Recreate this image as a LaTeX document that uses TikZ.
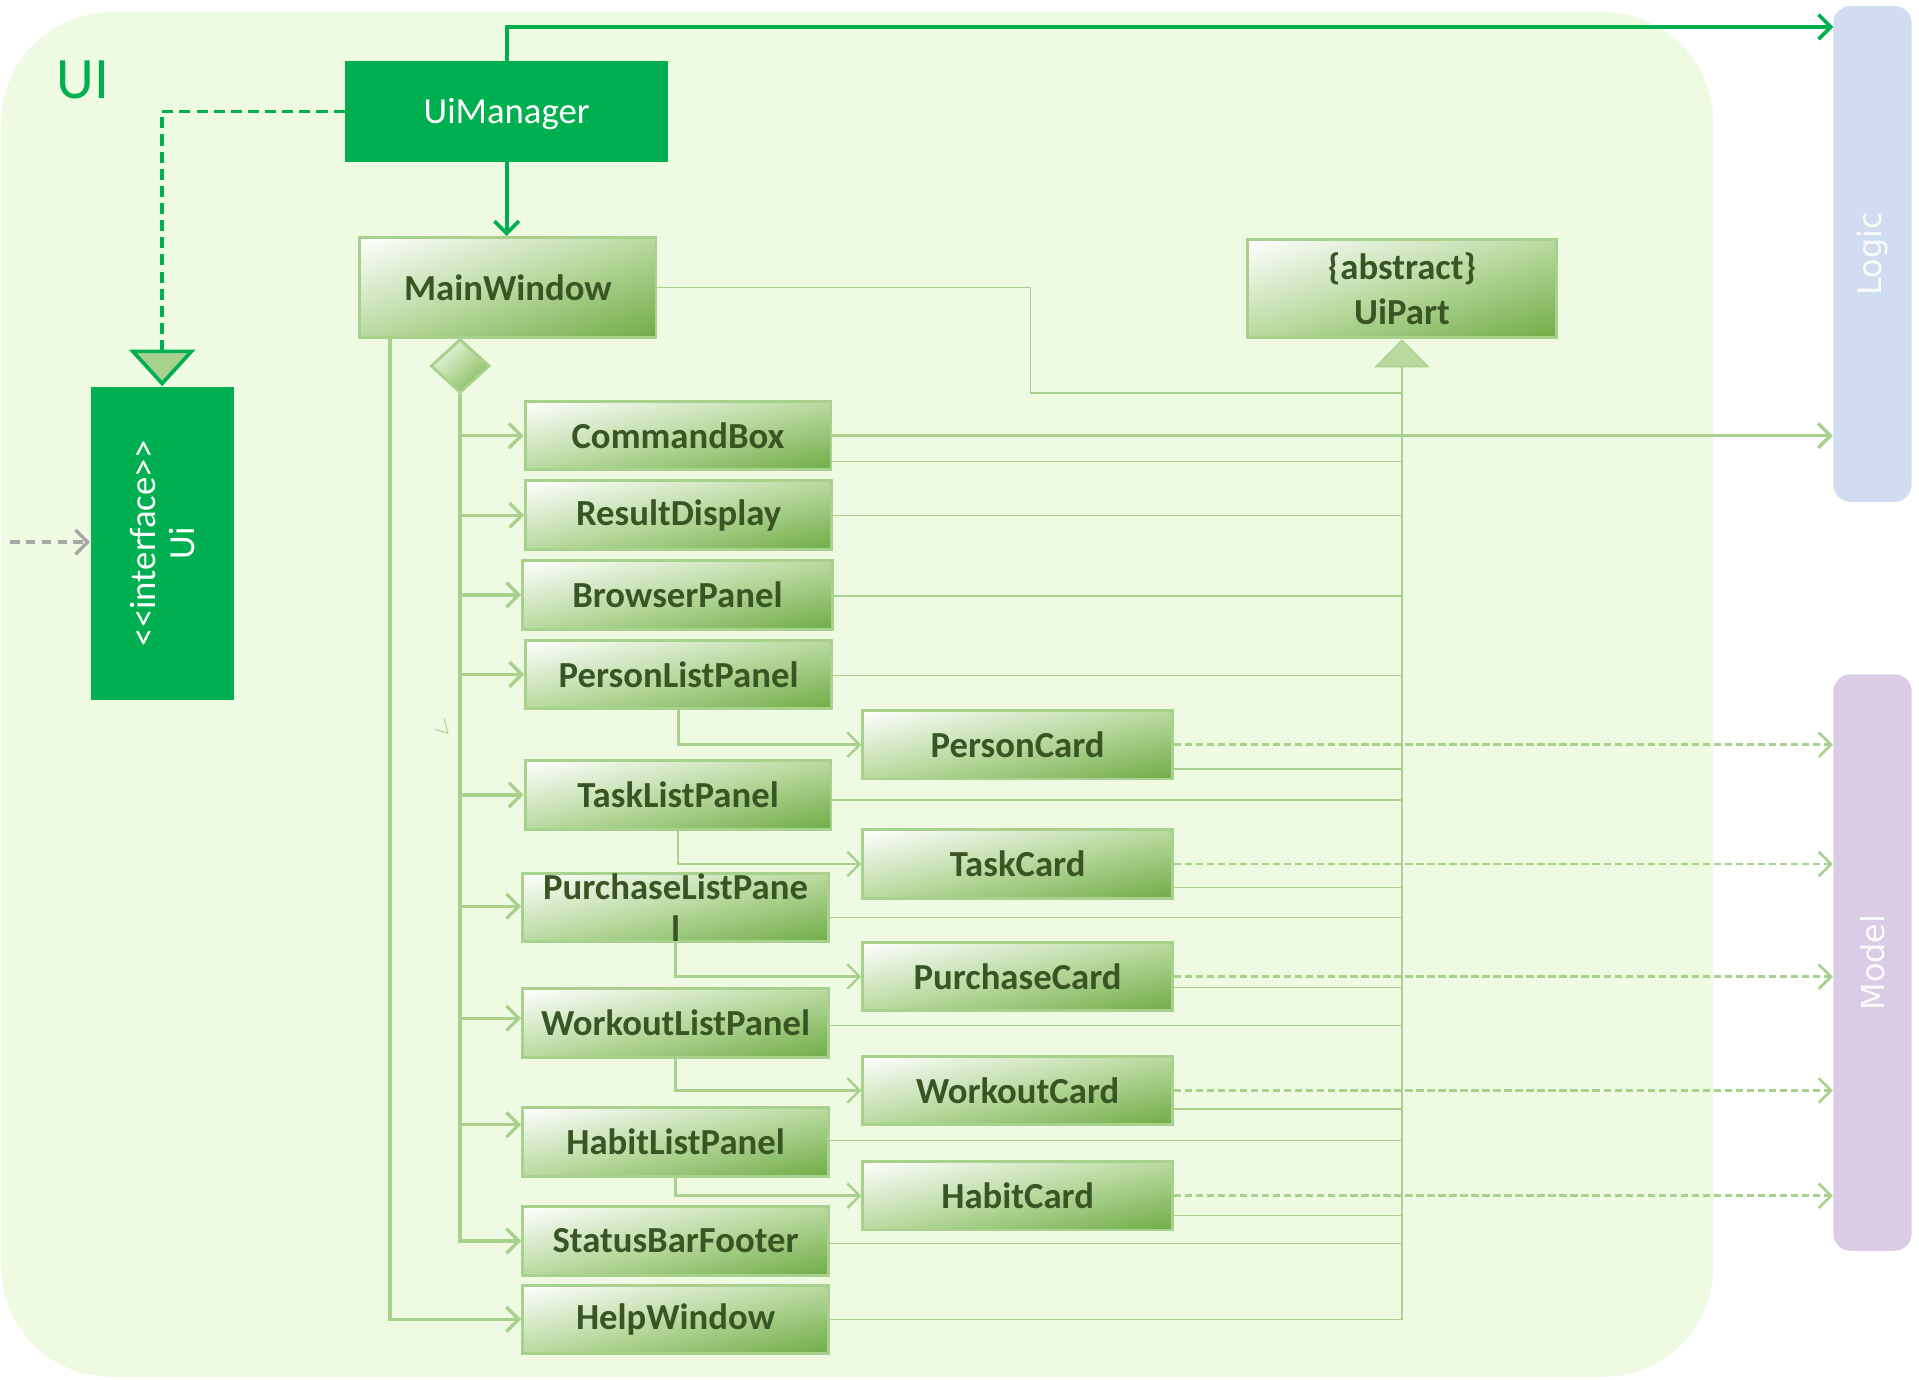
\documentclass[tikz,border=0pt]{standalone}
\usepackage{fontspec}
\setmainfont{Carlito}
\newfontfamily\layerfont{DejaVu Sans}
\usetikzlibrary{arrows.meta,shapes.geometric,calc}

\definecolor{uibg}{HTML}{EFFAE3}
\definecolor{uigreen}{HTML}{00B050}
\definecolor{uiline}{HTML}{A9D18E}
\definecolor{uimid}{HTML}{B8DA9F}
\definecolor{uidark}{HTML}{70AD47}
\definecolor{uitext}{HTML}{375623}
\definecolor{logicbg}{HTML}{D0DDF0}
\definecolor{modelbg}{HTML}{DACCE6}
\definecolor{extgrey}{HTML}{A6A6A6}

% white (top left) -> light green -> green (bottom right), stretched to the box
\pgfdeclarefunctionalshading{uigrad}{\pgfpointorigin}{\pgfpoint{100bp}{100bp}}{}{
  exch 25 sub exch 75 exch sub add 100 div
  dup 0 lt {pop 0} if dup 1 gt {pop 1} if
  dup 0.5 lt
  { 2 mul dup dup -0.278 mul 1 add 3 1 roll -0.145 mul 1 add exch -0.376 mul 1 add }
  { 2 mul 1 sub dup dup -0.283 mul 0.722 add 3 1 roll -0.177 mul 0.855 add exch -0.346 mul 0.624 add }
  ifelse
}

\tikzset{
  part/.style={draw=uiline, line width=1.2pt, shade, shading=uigrad, text=uitext,
    font=\fontsize{15}{17}\selectfont\bfseries, minimum width=125pt,
    minimum height=28pt, inner sep=0pt, align=center},
  card/.style={part, minimum width=126.5pt},
  mgrbox/.style={fill=uigreen, text=white, font=\fontsize{15}{16}\selectfont,
    inner sep=0pt, align=center},
  layer/.style={rounded corners=7pt, minimum height=32pt, inner sep=0pt,
    text=white, text opacity=0.9, font=\layerfont\fontsize{13}{15}\selectfont},
  partarrow/.style={draw=uiline, line width=1.4pt, -{Straight Barb[length=5pt,width=10pt]}},
  mgrarrow/.style={draw=uigreen, line width=1.5pt, -{Straight Barb[length=5pt,width=10pt]}},
  realize/.style={draw=uigreen, line width=1.5pt, dash pattern=on 4.5pt off 2.5pt,
    -{Triangle[length=15pt,width=27pt,fill=uiline]}},
  dep/.style={draw=uiline, line width=1.1pt, dash pattern=on 3pt off 1.5pt,
    -{Straight Barb[length=5pt,width=10pt]}},
  extarrow/.style={draw=extgrey, line width=1.4pt, dash pattern=on 4pt off 2.5pt,
    -{Straight Barb[length=5pt,width=10pt]}},
  touip/.style={draw=uiline, line width=0.6pt},
  inherit/.style={touip, -{Triangle[length=11.5pt,width=22.5pt,fill=uimid]}}
}

\begin{document}
\begin{tikzpicture}[x=0.5pt,y=-0.5pt]
  \useasboundingbox (0,0) rectangle (1568,1127);
  % UI component area
  \fill[uibg, rounded corners=45pt] (1,10) rectangle (1400,1125);
  \node[text=uigreen, font=\fontsize{24}{28}\selectfont] (uilabel) at (68,65) {UI};

  % neighbouring components (rotated, so north is their left side)
  \node[layer, fill=logicbg, rotate=90, minimum width=202.5pt] (logic) at (1530,207.5) {Logic};
  \node[layer, fill=modelbg, rotate=90, minimum width=235.5pt] (model) at (1530,786.5) {Model};

  \node[mgrbox, minimum width=132pt, minimum height=41pt, text depth=0pt] (uimgr) at (414,91) {UiManager};
  \node[mgrbox, rotate=90, minimum width=128pt, minimum height=58.5pt] (ui) at (132.5,444) {<\kern0pt<interface>\kern0pt>\\Ui};

  \node[part, minimum width=121pt, minimum height=41pt] (main) at (415,235) {MainWindow};
  \node[part, minimum width=126.5pt, minimum height=40pt, font=\fontsize{15}{18.5}\selectfont\bfseries] (uip) at (1145.5,236) {\{abstract\}\\UiPart};
  \node[diamond, draw=uiline, line width=1.2pt, shade, shading=uigrad,
    minimum width=24pt, minimum height=22pt, inner sep=0pt] (agg) at (376,299) {};

  \node[part] (cmd) at (554,356) {CommandBox};
  \node[part] (res) at (554.5,421) {ResultDisplay};
  \node[card] (brw) at (553.5,486) {BrowserPanel};
  \node[part] (plp) at (554.5,551) {PersonListPanel};
  \node[card] (pc) at (831.5,608.5) {PersonCard};
  \node[part] (tlp) at (554,649.5) {TaskListPanel};
  \node[card] (tc) at (831.5,706) {TaskCard};
  \node[part] (pulp) at (552,741.5) {PurchaseListPane\\l};
  \node[card] (puc) at (831.5,798) {PurchaseCard};
  \node[part] (wlp) at (552,836) {WorkoutListPanel};
  \node[card] (wc) at (831.5,891) {WorkoutCard};
  \node[part] (hlp) at (552,933) {HabitListPanel};
  \node[card] (hc) at (831.5,977) {HabitCard};
  \node[part] (sbf) at (552,1014) {StatusBarFooter};
  \node[part] (help) at (552,1078) {HelpWindow};

  % UiManager links
  \coordinate (lgin) at (1498,22);
  \coordinate (ext) at (8,443);
  \draw[mgrarrow] (uimgr.north) |- (lgin);
  \draw[mgrarrow] (uimgr.south) -- (uimgr.south |- main.north);
  \draw[realize] (uimgr.west) -| (ui.east);
  \draw[extarrow] (ext) -- (ext -| ui.north);

  % UiPart inheritance
  \coordinate (mwbend) at (842,321);
  \draw[touip] (main.east) -| (mwbend) -- (mwbend -| uip.south);
  \foreach \n/\d in {cmd/21,res/0,brw/1,plp/1,pc/20,tlp/4,tc/19,pulp/8,puc/9,wlp/2,wc/15,hlp/-1,hc/16,sbf/2}
    \draw[touip] ($(\n.east)+(0,\d)$) -- ($(\n.east -| uip.south)+(0,\d)$);
  \draw[inherit] (help.east) -- (help.east -| uip.south) -- (uip.south);

  % MainWindow parts
  \foreach \n/\d in {cmd/0,res/0,brw/0,plp/0,tlp/0,pulp/-1,wlp/-4,hlp/-14,sbf/0}
    \draw[partarrow] (agg.south) |- ($(\n.west)+(0,\d)$);
  \draw[partarrow] ([xshift=13pt]main.south west) |- (help.west);
  \foreach \p/\c in {plp/pc,tlp/tc,pulp/puc,wlp/wc,hlp/hc}
    \draw[partarrow, line width=1pt] (\p.south) |- (\c.west);
  % stray tip left in the drawing
  \draw[uiline, line width=0.4pt] (355,596) -- (366,599) -- (363,587);

  % to Logic and Model
  \draw[partarrow] (cmd.east) -- (cmd.east -| logic.north);
  \foreach \c in {pc,tc,puc,wc,hc}
    \draw[dep] (\c.east) -- (\c.east -| model.north);
\end{tikzpicture}
\end{document}
